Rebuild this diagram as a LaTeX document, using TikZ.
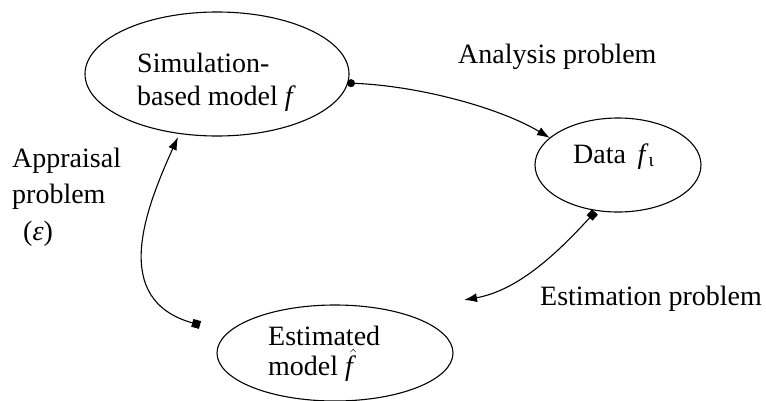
\documentclass[tikz,border=0pt]{standalone}
\usepackage{fontspec}
\setmainfont{Liberation Serif}
\usetikzlibrary{shapes.geometric,arrows.meta}
\begin{document}
\begin{tikzpicture}[x=1pt,y=-1pt,
  oval/.style={draw, ellipse, line width=1.1pt, inner sep=0pt},
  lbl/.style={anchor=base west, inner sep=0pt, font=\fontsize{28}{33}\selectfont},
  conn/.style={line width=1.1pt}]
\useasboundingbox (0,0) rectangle (766,400);
% ellipses
\node[oval, minimum width=264pt, minimum height=124pt] (sim) at (217,74) {};
\node[oval, minimum width=166pt, minimum height=94pt] (data) at (618,165) {};
\node[oval, minimum width=236pt, minimum height=96pt] (est) at (335,353) {};
% texts
\node[lbl] (t1) at (137,72) {Simulation-};
\node[lbl] (t2) at (137,105) {based model \textit{f}};
\node[lbl] (t3) at (573,163) {Data\, \textit{f}\textsubscript{ι}};
\node[lbl] (t4) at (268,345) {Estimated};
\node[lbl] (t5) at (268,375) {model $\skew{6}{\hat}{\mbox{\itshape f}}$};
\node[lbl] (t6) at (458,63) {Analysis problem};
\node[lbl] (t7) at (540,305) {Estimation problem};
\node[lbl] (t8) at (12,167) {Appraisal};
\node[lbl] (t9) at (12,203) {problem};
\node[lbl] (t10) at (23,240) {(\textit{ε})};
% connector end points
\coordinate (a0) at (347,83);
\coordinate (a1) at (550,138);
\coordinate (e0) at (595,212);
\coordinate (e1) at (464,300);
\coordinate (p0) at (200,325);
\coordinate (p1) at (178,137);
% connectors
\draw[conn, {Circle[length=8pt]}-{Latex[length=13pt,width=9pt]}]
  (a0) .. controls (420,86) and (500,108) .. (a1);
\draw[conn, {Square[length=8pt,width=8pt]}-{Latex[length=13pt,width=9pt]}]
  (e0) .. controls (560,250) and (520,290) .. (e1);
\draw[conn, {Square[length=8pt,width=8pt]}-{Latex[length=13pt,width=9pt]}]
  (p0) .. controls (110,300) and (145,210) .. (p1);
\end{tikzpicture}
\end{document}
